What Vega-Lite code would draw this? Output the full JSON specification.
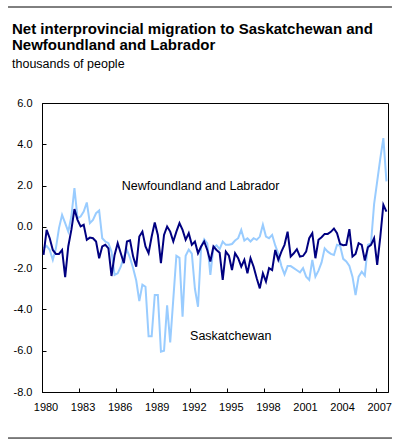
{
  "$schema": "https://vega.github.io/schema/vega-lite/v6.json",
  "width": 346,
  "height": 289,
  "autosize": {"type": "none"},
  "padding": {"left": 42, "top": 103, "right": 10, "bottom": 54},
  "background": "white",
  "config": {
    "font": "Liberation Sans",
    "view": {"stroke": "black", "strokeWidth": 1},
    "axis": {"domainColor": "black", "tickColor": "black", "labelColor": "black", "labelFont": "Liberation Sans", "labelFontSize": 11, "grid": false, "title": null},
    "axisX": {"labelOverlap": false, "labelFlush": false, "labelOffset": 3.5, "tickSize": -4, "labelPadding": 13, "labelBound": false, "tickCount": 20},
    "axisY": {"tickSize": -4, "labelPadding": 14, "labelOverlap": false, "tickCount": 20}
  },
  "title": {
    "text": ["Net interprovincial migration to Saskatchewan and", "Newfoundland and Labrador"],
    "subtitle": "thousands of people",
    "anchor": "start",
    "frame": "group",
    "dx": -30,
    "offset": -64,
    "fontSize": 15,
    "fontWeight": "bold",
    "lineHeight": 16,
    "subtitleFontSize": 12.5,
    "subtitlePadding": 5,
    "color": "black",
    "subtitleColor": "black",
    "font": "Liberation Sans",
    "subtitleFont": "Liberation Sans"
  },
  "datasets": {
    "series": [
      {"t": 1980.125, "NL": -1.36, "SK": -1.04},
      {"t": 1980.375, "NL": -0.15, "SK": -0.92},
      {"t": 1980.625, "NL": -0.55, "SK": -1.12},
      {"t": 1980.875, "NL": -1.12, "SK": -1.6},
      {"t": 1981.125, "NL": -1.31, "SK": -1.04},
      {"t": 1981.375, "NL": -1.31, "SK": -0.06},
      {"t": 1981.625, "NL": -1.12, "SK": 0.58},
      {"t": 1981.875, "NL": -2.44, "SK": 0.18},
      {"t": 1982.125, "NL": -0.95, "SK": -0.23},
      {"t": 1982.375, "NL": -0.15, "SK": 0.5},
      {"t": 1982.625, "NL": 0.86, "SK": 1.88},
      {"t": 1982.875, "NL": 0.34, "SK": 0.42},
      {"t": 1983.125, "NL": 0.02, "SK": 0.5},
      {"t": 1983.375, "NL": 0.1, "SK": 0.74},
      {"t": 1983.625, "NL": -0.63, "SK": 1.18},
      {"t": 1983.875, "NL": -0.52, "SK": 0.18},
      {"t": 1984.125, "NL": -0.55, "SK": 0.34},
      {"t": 1984.375, "NL": -0.71, "SK": 0.66},
      {"t": 1984.625, "NL": -1.52, "SK": 0.79},
      {"t": 1984.875, "NL": -0.95, "SK": -0.55},
      {"t": 1985.125, "NL": -0.87, "SK": -0.71},
      {"t": 1985.375, "NL": -1.04, "SK": -0.79},
      {"t": 1985.625, "NL": -2.38, "SK": -1.2},
      {"t": 1985.875, "NL": -1.36, "SK": -2.33},
      {"t": 1986.125, "NL": -0.79, "SK": -2.25},
      {"t": 1986.375, "NL": -1.28, "SK": -1.93},
      {"t": 1986.625, "NL": -1.76, "SK": -1.44},
      {"t": 1986.875, "NL": -0.71, "SK": -1.12},
      {"t": 1987.125, "NL": -0.65, "SK": -1.5},
      {"t": 1987.375, "NL": -1.44, "SK": -2.0},
      {"t": 1987.625, "NL": -1.93, "SK": -2.6},
      {"t": 1987.875, "NL": -0.47, "SK": -3.6},
      {"t": 1988.125, "NL": -0.23, "SK": -2.8},
      {"t": 1988.375, "NL": -0.95, "SK": -2.9},
      {"t": 1988.625, "NL": -1.28, "SK": -5.3},
      {"t": 1988.875, "NL": -0.47, "SK": -5.3},
      {"t": 1989.125, "NL": 0.21, "SK": -3.3},
      {"t": 1989.375, "NL": -0.39, "SK": -3.3},
      {"t": 1989.625, "NL": -1.76, "SK": -6.05},
      {"t": 1989.875, "NL": -0.39, "SK": -6.0},
      {"t": 1990.125, "NL": 0.02, "SK": -3.8},
      {"t": 1990.375, "NL": -0.23, "SK": -5.6},
      {"t": 1990.625, "NL": -0.71, "SK": -3.5},
      {"t": 1990.875, "NL": -0.23, "SK": -1.4},
      {"t": 1991.125, "NL": 0.18, "SK": -1.5},
      {"t": 1991.375, "NL": -0.15, "SK": -4.35},
      {"t": 1991.625, "NL": -0.63, "SK": -1.4},
      {"t": 1991.875, "NL": -0.31, "SK": -1.1},
      {"t": 1992.125, "NL": -0.87, "SK": -1.3},
      {"t": 1992.375, "NL": -0.71, "SK": -3.0},
      {"t": 1992.625, "NL": -1.28, "SK": -3.87},
      {"t": 1992.875, "NL": -0.95, "SK": -1.0},
      {"t": 1993.125, "NL": -0.71, "SK": -0.6},
      {"t": 1993.375, "NL": -1.12, "SK": -0.8},
      {"t": 1993.625, "NL": -1.68, "SK": -2.33},
      {"t": 1993.875, "NL": -0.95, "SK": -1.0},
      {"t": 1994.125, "NL": -1.12, "SK": -0.9},
      {"t": 1994.375, "NL": -1.25, "SK": -1.08},
      {"t": 1994.625, "NL": -2.57, "SK": -0.71},
      {"t": 1994.875, "NL": -1.2, "SK": -0.87},
      {"t": 1995.125, "NL": -1.4, "SK": -0.87},
      {"t": 1995.375, "NL": -2.09, "SK": -0.83},
      {"t": 1995.625, "NL": -1.28, "SK": -0.66},
      {"t": 1995.875, "NL": -1.52, "SK": -0.55},
      {"t": 1996.125, "NL": -1.93, "SK": -0.15},
      {"t": 1996.375, "NL": -1.6, "SK": -0.66},
      {"t": 1996.625, "NL": -2.25, "SK": -0.55},
      {"t": 1996.875, "NL": -1.52, "SK": -0.71},
      {"t": 1997.125, "NL": -1.93, "SK": -0.55},
      {"t": 1997.375, "NL": -2.49, "SK": -0.63},
      {"t": 1997.625, "NL": -2.98, "SK": -0.47},
      {"t": 1997.875, "NL": -2.25, "SK": 0.1},
      {"t": 1998.125, "NL": -2.65, "SK": -0.47},
      {"t": 1998.375, "NL": -2.0, "SK": -0.55},
      {"t": 1998.625, "NL": -2.09, "SK": -0.39},
      {"t": 1998.875, "NL": -1.12, "SK": -0.9},
      {"t": 1999.125, "NL": -1.6, "SK": -1.3},
      {"t": 1999.375, "NL": -1.2, "SK": -1.9},
      {"t": 1999.625, "NL": -0.87, "SK": -2.3},
      {"t": 1999.875, "NL": -0.23, "SK": -1.9},
      {"t": 2000.125, "NL": -1.44, "SK": -1.9},
      {"t": 2000.375, "NL": -1.28, "SK": -2.0},
      {"t": 2000.625, "NL": -1.08, "SK": -2.1},
      {"t": 2000.875, "NL": -1.44, "SK": -2.2},
      {"t": 2001.125, "NL": -1.41, "SK": -2.0},
      {"t": 2001.375, "NL": -1.2, "SK": -2.41},
      {"t": 2001.625, "NL": -0.55, "SK": -2.57},
      {"t": 2001.875, "NL": -0.31, "SK": -1.6},
      {"t": 2002.125, "NL": -1.52, "SK": -2.41},
      {"t": 2002.375, "NL": -0.63, "SK": -2.12},
      {"t": 2002.625, "NL": -0.5, "SK": -1.72},
      {"t": 2002.875, "NL": -0.34, "SK": -1.04},
      {"t": 2003.125, "NL": -0.34, "SK": -1.2},
      {"t": 2003.375, "NL": -0.24, "SK": -1.31},
      {"t": 2003.625, "NL": -0.08, "SK": -1.36},
      {"t": 2003.875, "NL": -0.31, "SK": -0.87},
      {"t": 2004.125, "NL": -0.83, "SK": -0.92},
      {"t": 2004.375, "NL": -0.89, "SK": -1.55},
      {"t": 2004.625, "NL": -0.87, "SK": -1.68},
      {"t": 2004.875, "NL": -0.11, "SK": -1.89},
      {"t": 2005.125, "NL": -1.44, "SK": -2.41},
      {"t": 2005.375, "NL": -1.31, "SK": -3.3},
      {"t": 2005.625, "NL": -0.79, "SK": -2.41},
      {"t": 2005.875, "NL": -0.87, "SK": -2.17},
      {"t": 2006.125, "NL": -1.63, "SK": -2.36},
      {"t": 2006.375, "NL": -0.99, "SK": -0.87},
      {"t": 2006.625, "NL": -0.87, "SK": -0.79},
      {"t": 2006.875, "NL": -0.55, "SK": 1.1},
      {"t": 2007.125, "NL": -1.84, "SK": 2.2},
      {"t": 2007.375, "NL": -0.5, "SK": 3.3},
      {"t": 2007.625, "NL": 1.07, "SK": 4.3},
      {"t": 2007.875, "NL": 0.74, "SK": 2.2}
    ],
    "labels": [
      {"t": 1986.45, "v": 1.785, "label": "Newfoundland and Labrador"},
      {"t": 1991.98, "v": -5.48, "label": "Saskatchewan"}
    ],
    "frame": [
      {"x1": 1977.25, "x2": 2008.32, "y": 10.65},
      {"x1": 1977.25, "x2": 2008.32, "y": -10.23}
    ]
  },
  "layer": [
    {
      "data": {"name": "series"},
      "mark": {"type": "line", "color": "#99ccff", "strokeWidth": 2},
      "encoding": {
        "x": {"field": "t", "type": "quantitative", "scale": {"domain": [1980, 2008], "nice": false, "zero": false},
          "axis": {"values": [1980, 1983, 1986, 1989, 1992, 1995, 1998, 2001, 2004, 2007], "format": "d", "tickCount": 20}},
        "y": {"field": "SK", "type": "quantitative", "scale": {"domain": [-8, 6], "nice": false, "zero": false},
          "axis": {"values": [-8, -6, -4, -2, 0, 2, 4, 6], "tickCount": 20, "labelExpr": "replace(format(datum.value, '.1f'), '\u2212', '-')"}}
      }
    },
    {
      "data": {"name": "series"},
      "mark": {"type": "line", "color": "#000080", "strokeWidth": 2},
      "encoding": {
        "x": {"field": "t", "type": "quantitative"},
        "y": {"field": "NL", "type": "quantitative"}
      }
    },
    {
      "data": {"name": "labels"},
      "mark": {"type": "text", "align": "left", "baseline": "alphabetic", "fontSize": 12.5, "font": "Liberation Sans", "color": "black"},
      "encoding": {
        "x": {"field": "t", "type": "quantitative"},
        "y": {"field": "v", "type": "quantitative"},
        "text": {"field": "label"}
      }
    },
    {
      "data": {"name": "frame"},
      "mark": {"type": "rule", "color": "black", "strokeWidth": 1, "clip": false},
      "encoding": {
        "x": {"field": "x1", "type": "quantitative"},
        "x2": {"field": "x2"},
        "y": {"field": "y", "type": "quantitative"}
      }
    }
  ]
}
